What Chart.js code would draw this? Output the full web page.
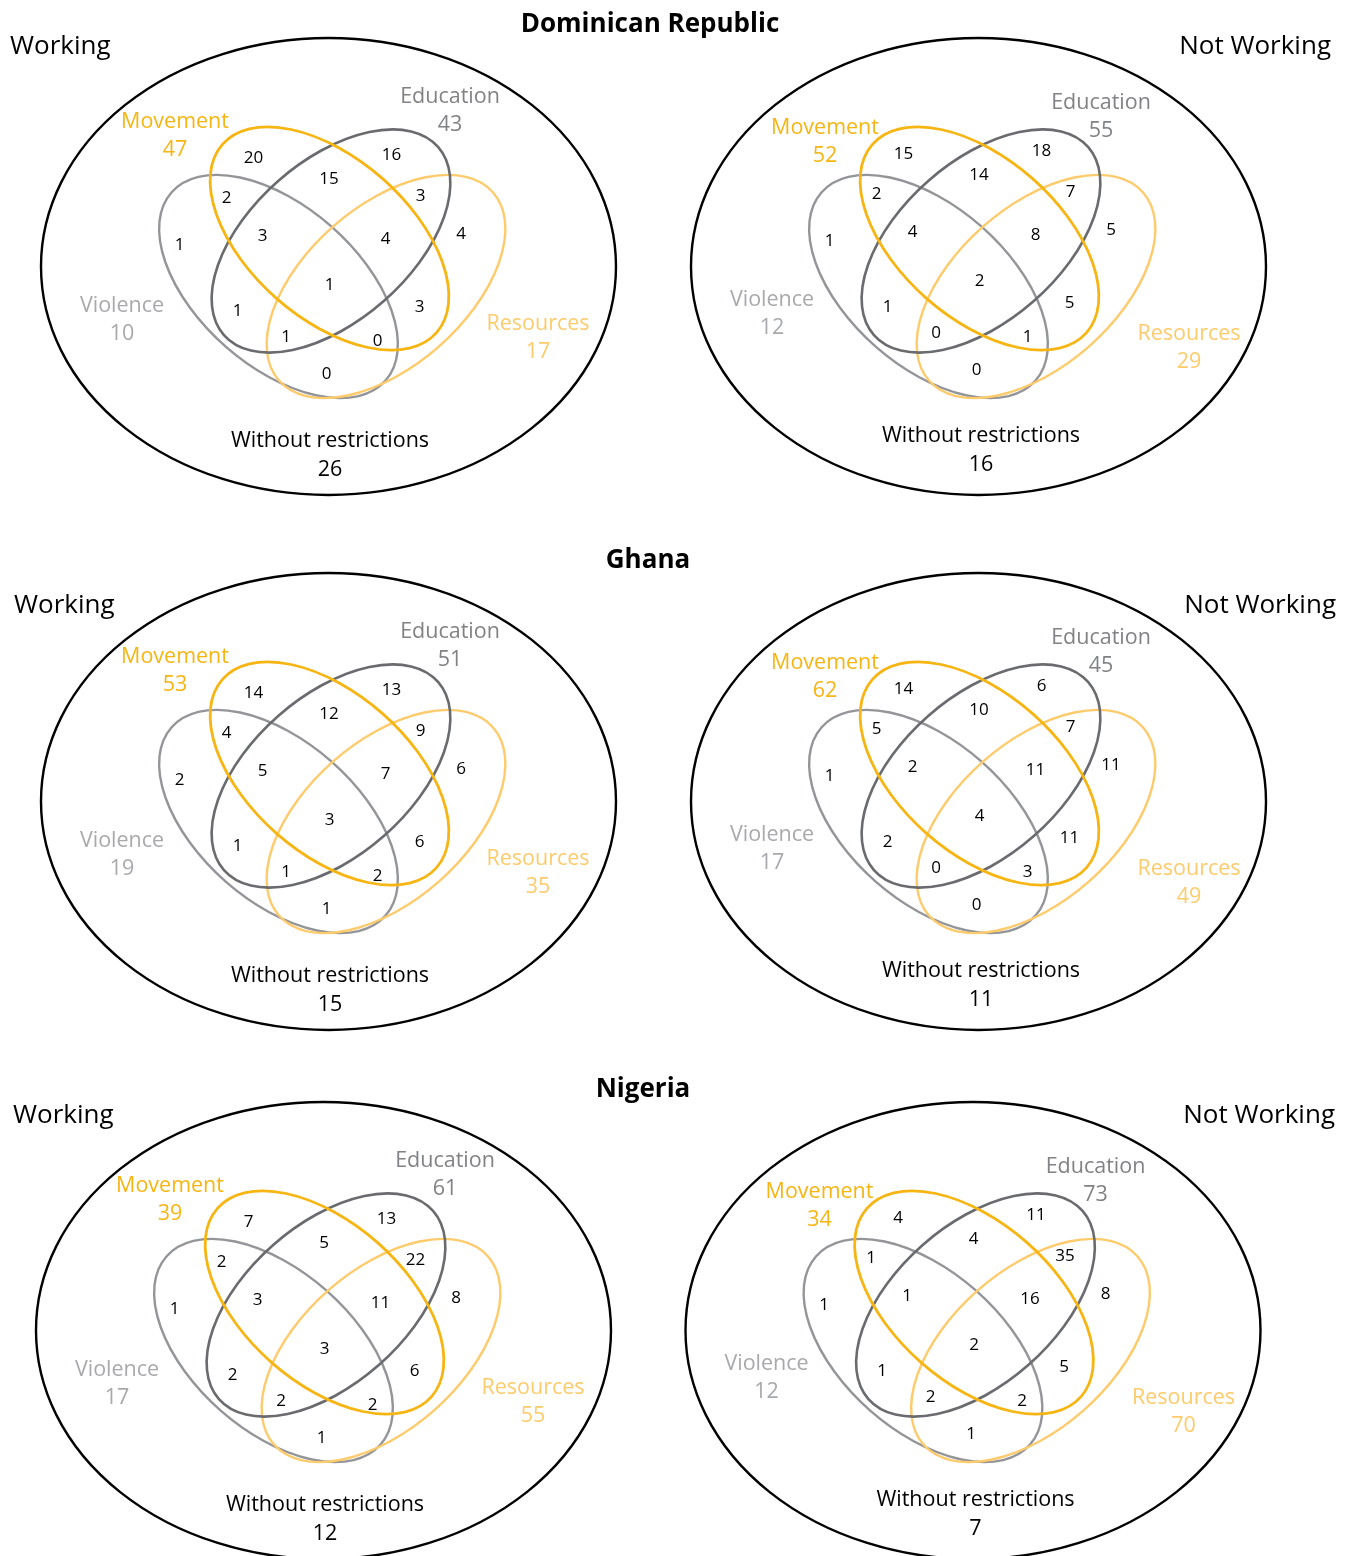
<!DOCTYPE html>
<html><head><meta charset="utf-8">
<script src="https://cdn.jsdelivr.net/npm/chart.js@4.4.0/dist/chart.umd.min.js"></script>
<style>html,body{margin:0;padding:0;background:#fff}#wrap{width:1352px;height:1556px}</style>
</head><body><div id="wrap"><canvas id="c" width="1352" height="1556"></canvas></div>
<script>
// ---------------- DATA ----------------
const regionKeys = ["M","ME","E","VM","ER","V","VME","MER","R","VMER","VE","MR","VER","VMR","VR"];
const countries = ["Dominican Republic", "Ghana", "Nigeria"];
const groups = ["Working", "Not Working"];
const setNames = ["Movement", "Education", "Violence", "Resources"];
const outsideLabel = "Without restrictions";

const drWorkingRegions     = [20,15,16,2,3,1,3,4,4,1,1,3,1,0,0];
const drNotWorkingRegions  = [15,14,18,2,7,1,4,8,5,2,1,5,0,1,0];
const ghWorkingRegions     = [14,12,13,4,9,2,5,7,6,3,1,6,1,2,1];
const ghNotWorkingRegions  = [14,10,6,5,7,1,2,11,11,4,2,11,0,3,0];
const ngWorkingRegions     = [7,5,13,2,22,1,3,11,8,3,2,6,2,2,1];
const ngNotWorkingRegions  = [4,4,11,1,35,1,1,16,8,2,1,5,2,2,1];

// set totals in order Movement, Education, Violence, Resources
const drWorkingTotals    = [47,43,10,17];
const drNotWorkingTotals = [52,55,12,29];
const ghWorkingTotals    = [53,51,19,35];
const ghNotWorkingTotals = [62,45,17,49];
const ngWorkingTotals    = [39,61,17,55];
const ngNotWorkingTotals = [34,73,12,70];

const withoutRestrictions = [26,16,15,11,12,7];

// ---------------- LAYOUT / STYLE ----------------
const panelRegions = [drWorkingRegions, drNotWorkingRegions, ghWorkingRegions, ghNotWorkingRegions, ngWorkingRegions, ngNotWorkingRegions];
const panelTotals = [drWorkingTotals, drNotWorkingTotals, ghWorkingTotals, ghNotWorkingTotals, ngWorkingTotals, ngNotWorkingTotals];
const panelCenters = [[328.5,266.5],[978.5,266.5],[328.5,801.5],[978.5,801.5],[323.5,1330.5],[973,1330.5]];
const outerR = [287.5, 228.5];
const ellA = 142.5, ellB = 80, ellRot = 41.3 * Math.PI / 180;
// Violence, Resources, Education, Movement  (draw order)
const innerEllipses = [
  {set:2, dx:-50,  dy:20,    rot: ellRot,  color:"#949598", w:2.4},
  {set:3, dx:57.5, dy:20,    rot:-ellRot,  color:"#FDCB6B", w:2.4},
  {set:1, dx:2.5,  dy:-25.5, rot:-ellRot,  color:"#6A6B6E", w:2.6},
  {set:0, dx:1,    dy:-28,   rot: ellRot,  color:"#F6B513", w:2.8}
];
const setTextColors = ["#F6B513", "#808285", "#A7A9AC", "#FDCB6B"];
const regionOffsets = [[-75,-110],[0.5,-89],[63,-113],[-102,-70],[92,-72],[-149,-23],[-66,-31.5],[57,-29],[132.5,-34],[1,17.5],[-91,43],[91,39.5],[-42.5,69.5],[49,73],[-2,106]];
const setLabelOffsets = [
  [[-153.5,-146.5],[121.5,-171.5],[-206.5,37.5],[209.5,55.5],[1.5,172.5]],
  [[-153.5,-140.5],[122.5,-165.5],[-206.5,31.5],[210.5,65.5],[2.5,167.5]]
];
const colRegionShift = [0, -4];
const titlePos = [[650,23],[648,559],[643,1088]];
const workingPos = [[10,45],[14,604],[13,1114]];
const notWorkingPos = [[1331,45],[1336,604],[1335,1114]];
const FONT = "'Open Sans', 'Noto Sans', sans-serif";

// ---------------- CHART ----------------
const datasets = panelRegions.map((vals, p) => {
  const col = p % 2;
  const [cx, cy] = panelCenters[p];
  return {
    label: countries[Math.floor(p/2)] + " – " + groups[col],
    data: vals.map((v, i) => ({x: cx + regionOffsets[i][0], y: cy + regionOffsets[i][1] + colRegionShift[col], v: v})),
    pointRadius: 0, showLine: false
  };
});

function txt(ctx, s, x, y, size, color, align, bold) {
  ctx.font = (bold ? "bold " : "") + size + "px " + FONT;
  ctx.fillStyle = color;
  ctx.textAlign = align || "center";
  ctx.textBaseline = "alphabetic";
  ctx.fillText(s, x, y + size * 0.357);
}

const vennPlugin = {
  id: "venn",
  beforeDraw(chart) {
    const ctx = chart.ctx;
    ctx.save(); ctx.fillStyle = "#fff"; ctx.fillRect(0, 0, chart.width, chart.height); ctx.restore();
  },
  afterDatasetsDraw(chart) {
    const ctx = chart.ctx, xs = chart.scales.x, ys = chart.scales.y;
    const k = Math.abs(xs.getPixelForValue(1) - xs.getPixelForValue(0));
    const px = v => xs.getPixelForValue(v), py = v => ys.getPixelForValue(v);
    ctx.save();
    panelCenters.forEach(([cx, cy], p) => {
      const col = p % 2;
      ctx.beginPath();
      ctx.ellipse(px(cx), py(cy), outerR[0]*k, outerR[1]*k, 0, 0, Math.PI*2);
      ctx.strokeStyle = "#000"; ctx.lineWidth = 2.4; ctx.stroke();
      innerEllipses.forEach(e => {
        ctx.beginPath();
        ctx.ellipse(px(cx + e.dx), py(cy + e.dy), ellA*k, ellB*k, e.rot, 0, Math.PI*2);
        ctx.strokeStyle = e.color; ctx.lineWidth = e.w; ctx.stroke();
      });
      const meta = chart.getDatasetMeta(p);
      meta.data.forEach((el, i) => {
        txt(ctx, String(chart.data.datasets[p].data[i].v), el.x, el.y, 17, "#000");
      });
      const offs = setLabelOffsets[col];
      setNames.forEach((name, s) => {
        const [ox, oy] = offs[s];
        txt(ctx, name, px(cx+ox), py(cy+oy), 21.5, setTextColors[s]);
        txt(ctx, String(panelTotals[p][s]), px(cx+ox), py(cy+oy+28), 21.5, setTextColors[s]);
      });
      const [wx, wy] = offs[4];
      txt(ctx, outsideLabel, px(cx+wx), py(cy+wy), 21.5, "#000");
      txt(ctx, String(withoutRestrictions[p]), px(cx+wx), py(cy+wy+29), 21.5, "#000");
    });
    countries.forEach((c, r) => {
      txt(ctx, c, px(titlePos[r][0]), py(titlePos[r][1]), 26, "#000", "center", true);
      txt(ctx, groups[0], px(workingPos[r][0]), py(workingPos[r][1]), 26, "#000", "left");
      txt(ctx, groups[1], px(notWorkingPos[r][0]), py(notWorkingPos[r][1]), 26, "#000", "right");
    });
    ctx.restore();
  }
};

new Chart(document.getElementById("c"), {
  type: "scatter",
  data: { datasets },
  options: {
    responsive: false, animation: false, devicePixelRatio: 1,
    layout: { padding: 0 },
    plugins: { legend: { display: false }, tooltip: { enabled: false }, title: { display: false } },
    scales: {
      x: { type: "linear", min: 0, max: 1352, display: false },
      y: { type: "linear", min: 0, max: 1556, reverse: true, display: false }
    }
  },
  plugins: [vennPlugin]
});
</script></body></html>
